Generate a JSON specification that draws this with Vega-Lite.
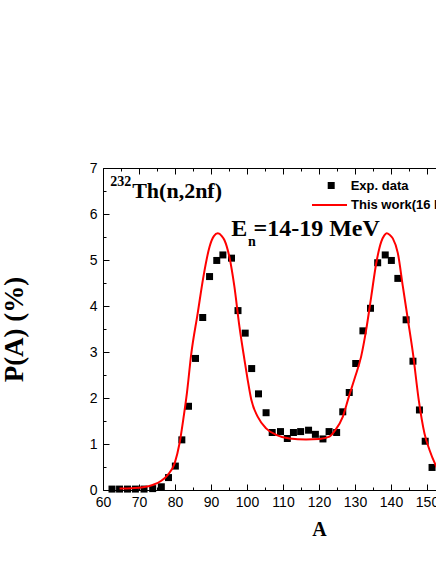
{
  "$schema": "https://vega.github.io/schema/vega-lite/v6.json",
  "autosize": {"type": "none"},
  "width": 333,
  "height": 322,
  "padding": {"left": 103, "top": 168, "right": 0, "bottom": 74},
  "background": "white",
  "config": {
    "view": {"stroke": null},
    "axis": {"grid": false, "domainColor": "black", "domainWidth": 1, "tickColor": "black", "tickWidth": 1, "labelColor": "black", "titleColor": "black"}
  },
  "datasets": {
    "points": [
      {"A": 62.5, "P": 0.02}, {"A": 64.6, "P": 0.02}, {"A": 66.8, "P": 0.02}, {"A": 69.0, "P": 0.02},
      {"A": 71.4, "P": 0.02}, {"A": 73.8, "P": 0.03}, {"A": 76.2, "P": 0.07}, {"A": 78.2, "P": 0.27},
      {"A": 80.1, "P": 0.52}, {"A": 81.9, "P": 1.09}, {"A": 83.75, "P": 1.82}, {"A": 85.7, "P": 2.86},
      {"A": 87.7, "P": 3.75}, {"A": 89.6, "P": 4.64}, {"A": 91.6, "P": 4.99}, {"A": 93.3, "P": 5.11},
      {"A": 95.7, "P": 5.04}, {"A": 97.5, "P": 3.9}, {"A": 99.5, "P": 3.41}, {"A": 101.3, "P": 2.64},
      {"A": 103.2, "P": 2.09}, {"A": 105.3, "P": 1.68}, {"A": 107.0, "P": 1.25}, {"A": 109.3, "P": 1.27},
      {"A": 111.2, "P": 1.12}, {"A": 112.9, "P": 1.25}, {"A": 114.9, "P": 1.27}, {"A": 117.1, "P": 1.3},
      {"A": 119.0, "P": 1.21}, {"A": 121.1, "P": 1.11}, {"A": 122.8, "P": 1.27}, {"A": 124.9, "P": 1.25},
      {"A": 126.6, "P": 1.7}, {"A": 128.4, "P": 2.12}, {"A": 130.2, "P": 2.75}, {"A": 132.2, "P": 3.46},
      {"A": 134.3, "P": 3.95}, {"A": 136.3, "P": 4.94}, {"A": 138.4, "P": 5.11}, {"A": 140.1, "P": 4.99},
      {"A": 141.9, "P": 4.6}, {"A": 144.2, "P": 3.7}, {"A": 146.1, "P": 2.8}, {"A": 147.9, "P": 1.74},
      {"A": 149.5, "P": 1.06}, {"A": 151.4, "P": 0.49}
    ],
    "curve": [
      {"A": 64.6, "P": 0.03}, {"A": 68.0, "P": 0.04}, {"A": 71.1, "P": 0.06}, {"A": 73.8, "P": 0.11},
      {"A": 76.2, "P": 0.2}, {"A": 78.0, "P": 0.33}, {"A": 79.9, "P": 0.58}, {"A": 81.25, "P": 1.01},
      {"A": 82.4, "P": 1.59}, {"A": 83.3, "P": 2.1}, {"A": 84.5, "P": 2.95}, {"A": 86.3, "P": 3.84},
      {"A": 87.9, "P": 4.64}, {"A": 89.6, "P": 5.29}, {"A": 90.8, "P": 5.52}, {"A": 91.9, "P": 5.58},
      {"A": 93.0, "P": 5.52}, {"A": 93.75, "P": 5.43}, {"A": 95.1, "P": 5.07}, {"A": 96.5, "P": 4.42},
      {"A": 97.9, "P": 3.55}, {"A": 99.3, "P": 2.83}, {"A": 100.2, "P": 2.39}, {"A": 101.2, "P": 1.96},
      {"A": 103.0, "P": 1.59}, {"A": 105.3, "P": 1.34}, {"A": 108.1, "P": 1.2}, {"A": 111.8, "P": 1.12},
      {"A": 116.4, "P": 1.1}, {"A": 120.1, "P": 1.11}, {"A": 122.9, "P": 1.16}, {"A": 124.5, "P": 1.3},
      {"A": 126.6, "P": 1.59}, {"A": 128.3, "P": 2.03}, {"A": 130.0, "P": 2.45}, {"A": 131.7, "P": 2.9},
      {"A": 133.1, "P": 3.48}, {"A": 134.5, "P": 4.2}, {"A": 135.9, "P": 4.93}, {"A": 137.3, "P": 5.4},
      {"A": 138.1, "P": 5.53}, {"A": 138.8, "P": 5.58}, {"A": 139.6, "P": 5.55}, {"A": 140.5, "P": 5.47},
      {"A": 141.9, "P": 5.15}, {"A": 143.3, "P": 4.42}, {"A": 144.7, "P": 3.7}, {"A": 146.1, "P": 2.97},
      {"A": 147.7, "P": 1.96}, {"A": 149.3, "P": 1.23}, {"A": 150.7, "P": 0.87}, {"A": 152.4, "P": 0.54},
      {"A": 154.0, "P": 0.3}, {"A": 156.0, "P": 0.15}, {"A": 158.0, "P": 0.08}, {"A": 161.0, "P": 0.04},
      {"A": 166.0, "P": 0.03}
    ]
  },
  "layer": [
    {
      "data": {"name": "points"},
      "mark": {"type": "point", "filled": true, "size": 49, "color": "black", "opacity": 1},
      "encoding": {
        "x": {
          "field": "A", "type": "quantitative",
          "scale": {"domain": [60, 180], "range": [0, 432], "nice": false, "zero": false},
          "axis": {
            "orient": "bottom",
            "values": [60, 65, 70, 75, 80, 85, 90, 95, 100, 105, 110, 115, 120, 125, 130, 135, 140, 145, 150, 155, 160, 165, 170, 175, 180],
            "labelExpr": "datum.value % 10 === 0 ? '' + datum.value : ''",
            "tickSize": {"condition": {"test": "datum.value % 10 === 0", "value": -6}, "value": -3},
            "labelPadding": 11,
            "labelFont": "Liberation Sans", "labelFontSize": 14,
            "labelFlush": false, "labelOverlap": false, "labelBound": false,
            "title": "A", "titleFont": "Liberation Serif", "titleFontSize": 20, "titleFontWeight": "bold", "titlePadding": 7
          }
        },
        "y": {
          "field": "P", "type": "quantitative",
          "scale": {"domain": [0, 7], "nice": false, "zero": false},
          "axis": {
            "orient": "left",
            "values": [0, 0.5, 1, 1.5, 2, 2.5, 3, 3.5, 4, 4.5, 5, 5.5, 6, 6.5, 7],
            "labelExpr": "datum.value % 1 === 0 ? '' + datum.value : ''",
            "tickSize": {"condition": {"test": "datum.value % 1 === 0", "value": -6}, "value": -3},
            "labelPadding": 12,
            "labelFont": "Liberation Sans", "labelFontSize": 14,
            "labelFlush": false, "labelOverlap": false, "labelBound": false,
            "title": "P(A) (%)", "titleFont": "Liberation Serif", "titleFontSize": 27, "titleFontWeight": "bold", "titlePadding": 61
          }
        },
        "shape": {
          "datum": "Exp. data", "type": "nominal",
          "scale": {"range": ["square"]},
          "legend": {
            "orient": "none", "legendX": 221.7, "legendY": 11, "title": null, "padding": 0,
            "symbolType": "square", "symbolSize": 49, "symbolFillColor": "black", "symbolStrokeColor": "black",
            "labelFont": "Liberation Sans", "labelFontSize": 13, "labelFontWeight": "bold", "labelColor": "black", "labelOffset": 13
          }
        }
      }
    },
    {
      "data": {"name": "curve"},
      "mark": {"type": "line", "interpolate": "monotone", "strokeWidth": 2},
      "encoding": {
        "x": {
          "field": "A", "type": "quantitative",
          "axis": {
            "orient": "top",
            "values": [60, 65, 70, 75, 80, 85, 90, 95, 100, 105, 110, 115, 120, 125, 130, 135, 140, 145, 150, 155, 160, 165, 170, 175, 180],
            "labels": false,
            "tickSize": {"condition": {"test": "datum.value % 10 === 0", "value": -6}, "value": -3},
            "title": null
          }
        },
        "y": {"field": "P", "type": "quantitative", "axis": null},
        "color": {
          "datum": "This work(16 MeV)", "type": "nominal",
          "scale": {"range": ["#ff0000"]},
          "legend": {
            "orient": "none", "legendX": 208, "legendY": 18.5, "title": null, "padding": 0,
            "symbolType": "stroke", "symbolSize": 1225, "symbolStrokeWidth": 2, "symbolStrokeColor": "#ff0000",
            "labelFont": "Liberation Sans", "labelFontSize": 13, "labelFontWeight": "bold", "labelColor": "black", "labelOffset": 3,
            "labelLimit": 0
          }
        }
      }
    },
    {
      "data": {"values": [{}]},
      "mark": {"type": "text", "text": "232", "font": "Liberation Serif", "fontSize": 14, "fontWeight": "bold", "align": "left", "baseline": "alphabetic", "color": "black"},
      "encoding": {"x": {"datum": 62.0, "type": "quantitative", "axis": null}, "y": {"datum": 6.61, "type": "quantitative", "axis": null}}
    },
    {
      "data": {"values": [{}]},
      "mark": {"type": "text", "text": "Th(n,2nf)", "font": "Liberation Serif", "fontSize": 22, "fontWeight": "bold", "align": "left", "baseline": "alphabetic", "color": "black"},
      "encoding": {"x": {"datum": 68.1, "type": "quantitative", "axis": null}, "y": {"datum": 6.35, "type": "quantitative", "axis": null}}
    },
    {
      "data": {"values": [{}]},
      "mark": {"type": "text", "text": "E", "font": "Liberation Serif", "fontSize": 24, "fontWeight": "bold", "align": "left", "baseline": "alphabetic", "color": "black"},
      "encoding": {"x": {"datum": 95.6, "type": "quantitative", "axis": null}, "y": {"datum": 5.52, "type": "quantitative", "axis": null}}
    },
    {
      "data": {"values": [{}]},
      "mark": {"type": "text", "text": "n", "font": "Liberation Serif", "fontSize": 14, "fontWeight": "bold", "align": "left", "baseline": "alphabetic", "color": "black"},
      "encoding": {"x": {"datum": 100.3, "type": "quantitative", "axis": null}, "y": {"datum": 5.3, "type": "quantitative", "axis": null}}
    },
    {
      "data": {"values": [{}]},
      "mark": {"type": "text", "text": "=14-19 MeV", "font": "Liberation Serif", "fontSize": 24, "fontWeight": "bold", "align": "left", "baseline": "alphabetic", "color": "black"},
      "encoding": {"x": {"datum": 101.8, "type": "quantitative", "axis": null}, "y": {"datum": 5.52, "type": "quantitative", "axis": null}}
    }
  ],
  "resolve": {"axis": {"x": "independent", "y": "independent"}}
}
